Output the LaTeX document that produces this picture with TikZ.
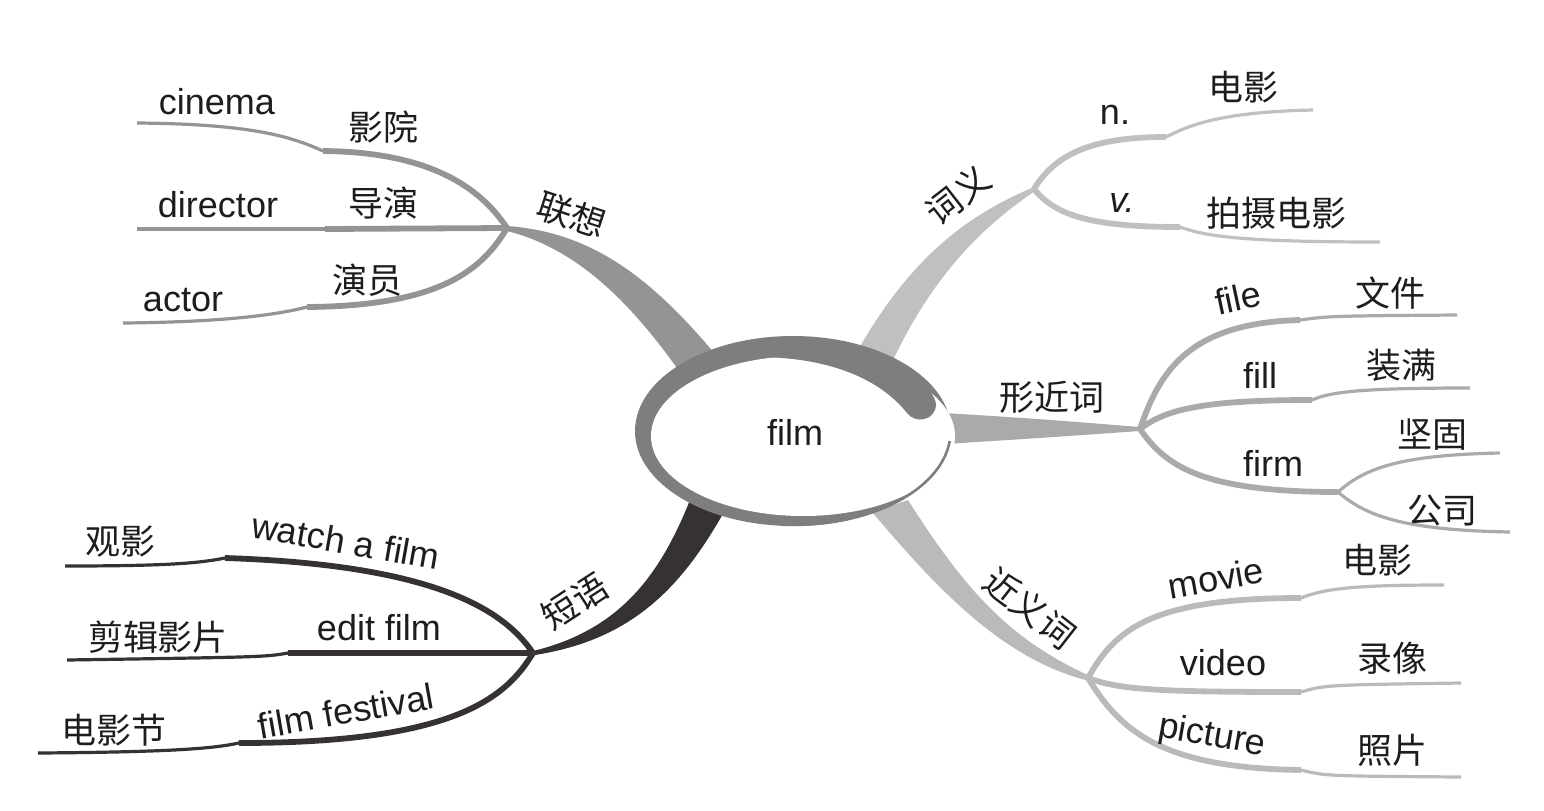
\documentclass[tikz,border=0pt]{standalone}
\usepackage{fontspec}
\setmainfont{Liberation Sans}
\newfontfamily\cjk{Noto Sans CJK SC}
\definecolor{ring}{RGB}{126,126,126}
\definecolor{assoc}{RGB}{148,148,148}
\definecolor{mean}{RGB}{192,192,192}
\definecolor{form}{RGB}{170,170,170}
\definecolor{syn}{RGB}{186,186,186}
\definecolor{phrase}{RGB}{54,49,50}
\definecolor{ink}{RGB}{30,28,28}

\begin{document}
\begin{tikzpicture}[x=0.5pt, y=-0.5pt,
  near/.style={line width=2.9pt},
  far/.style={line width=1.6pt},
  word/.style={font=\fontsize{18}{20}\selectfont, text=ink, inner sep=0pt},
  hanzi/.style={font=\cjk\fontsize{17.5}{20}\selectfont, text=ink, inner sep=0pt},
]
  \useasboundingbox (0,0) rectangle (1544,810);

  % forks and kinks
  \coordinate (assocF) at (507,228);
  \coordinate (meanF) at (1034,189);
  \coordinate (formF) at (1140,429);
  \coordinate (firmF) at (1338,492);
  \coordinate (synF) at (1088,678);
  \coordinate (phraseF) at (533,653);

  % trunks
  \fill[assoc] (507,226) .. controls (590,232) and (650,275) .. (720,360) -- (684,378) .. controls (630,300) and (575,248) .. (507,231) -- cycle;
  \fill[mean] (1034,187) .. controls (975,212) and (915,250) .. (858,350) -- (893,360) .. controls (935,272) and (985,225) .. (1035,191) -- cycle;
  \fill[form] (945,413) .. controls (1040,419) .. (1140,427) -- (1140,431) .. controls (1040,438) .. (945,444) -- cycle;
  \fill[syn] (872,512) .. controls (930,580) and (1000,660) .. (1090,681) -- (1090,676) .. controls (1010,640) and (965,590) .. (908,500) -- cycle;
  \fill[phrase] (690,500) .. controls (660,575) and (620,630) .. (533,651) -- (535,655) .. controls (630,640) and (680,590) .. (724,512) -- cycle;

  % centre
  \fill[ring] (793,431) ellipse [x radius=158, y radius=95];
  \fill[white] (803,436) ellipse [x radius=152, y radius=80];
  \draw[ring, line width=1.3pt] (949.7,441) arc [start angle=6, end angle=95, x radius=156.7, y radius=93.7];
  \fill[ring] (760,357) .. controls (840,358) and (885,385) .. (907,413) .. controls (915,424) and (935,421) .. (936,405) .. controls (936,390) and (900,352) .. (850,348) -- cycle;
  \node[word] (film) at (795,432) {film};

  % 联想
  \coordinate (cinK) at (323,151); \coordinate (cinE) at (137,123);
  \coordinate (dirK) at (325,229); \coordinate (dirE) at (137,229);
  \coordinate (actK) at (307,307); \coordinate (actE) at (123,323);
  \draw[near, assoc] (assocF) .. controls (485,195) and (440,152) .. (cinK);
  \draw[far, assoc] (cinK) .. controls (290,136) and (250,124) .. (cinE);
  \draw[near, assoc] (assocF) -- (dirK);
  \draw[far, assoc] (dirK) -- (dirE);
  \draw[near, assoc] (assocF) .. controls (482,270) and (440,306) .. (actK);
  \draw[far, assoc] (actK) .. controls (280,314) and (230,322) .. (actE);
  \node[hanzi, rotate=-18] (assocL) at (572,215) {联想};
  \node[word] (cinema) at (217,102) {cinema};
  \node[hanzi] (cinemaZ) at (383,127) {影院};
  \node[word] (director) at (218,205) {director};
  \node[hanzi] (directorZ) at (383,203) {导演};
  \node[word] (actor) at (183,300) {actor};
  \node[hanzi] (actorZ) at (367,280) {演员};

  % 词义
  \coordinate (nK) at (1166,137); \coordinate (nE) at (1313,110);
  \coordinate (vK) at (1180,227); \coordinate (vE) at (1380,242);
  \draw[near, mean] (meanF) .. controls (1055,155) and (1090,137) .. (nK);
  \draw[far, mean] (nK) .. controls (1190,125) and (1220,112) .. (nE);
  \draw[near, mean] (meanF) .. controls (1055,215) and (1090,227) .. (vK);
  \draw[far, mean] (vK) .. controls (1205,236) and (1240,242) .. (vE);
  \node[hanzi, rotate=38] (meanL) at (958,195) {词义};
  \node[word] (noun) at (1115,115) {n.};
  \node[hanzi] (nounZ) at (1243,87) {电影};
  \node[word, font=\fontsize{18}{20}\selectfont\itshape] (verb) at (1122,203) {v.};
  \node[hanzi] (verbZ) at (1276,213) {拍摄电影};

  % 形近词
  \coordinate (fileK) at (1300,320); \coordinate (fileE) at (1457,315);
  \coordinate (fillK) at (1312,400); \coordinate (fillE) at (1470,388);
  \coordinate (solidE) at (1500,453); \coordinate (compE) at (1510,532);
  \draw[near, form] (formF) .. controls (1160,370) and (1190,323) .. (fileK);
  \draw[far, form] (fileK) .. controls (1330,316) .. (fileE);
  \draw[near, form] (formF) .. controls (1165,410) and (1200,400) .. (fillK);
  \draw[far, form] (fillK) .. controls (1330,392) and (1360,388) .. (fillE);
  \draw[near, form] (formF) .. controls (1165,465) and (1200,492) .. (firmF);
  \draw[far, form] (firmF) .. controls (1365,468) and (1400,455) .. (solidE);
  \draw[far, form] (firmF) .. controls (1365,515) and (1400,530) .. (compE);
  \node[hanzi] (formL) at (1052,397) {形近词};
  \node[word, rotate=12] (file) at (1238,298) {file};
  \node[hanzi] (fileZ) at (1390,293) {文件};
  \node[word] (fill) at (1260,375) {fill};
  \node[hanzi] (fillZ) at (1401,365) {装满};
  \node[word] (firm) at (1273,463) {firm};
  \node[hanzi] (solidZ) at (1432,435) {坚固};
  \node[hanzi] (compZ) at (1442,510) {公司};

  % 近义词
  \coordinate (movK) at (1301,598); \coordinate (movE) at (1444,585);
  \coordinate (vidK) at (1301,692); \coordinate (vidE) at (1461,683);
  \coordinate (picK) at (1301,770); \coordinate (picE) at (1461,777);
  \draw[near, syn] (synF) .. controls (1115,630) and (1150,598) .. (movK);
  \draw[far, syn] (movK) .. controls (1325,588) and (1360,585) .. (movE);
  \draw[near, syn] (synF) .. controls (1120,690) and (1160,692) .. (vidK);
  \draw[far, syn] (vidK) .. controls (1325,685) .. (vidE);
  \draw[near, syn] (synF) .. controls (1120,730) and (1160,768) .. (picK);
  \draw[far, syn] (picK) .. controls (1325,776) .. (picE);
  \node[hanzi, rotate=-38] (synL) at (1030,608) {近义词};
  \node[word, rotate=10] (movie) at (1216,578) {movie};
  \node[hanzi] (movieZ) at (1377,560) {电影};
  \node[word] (video) at (1223,663) {video};
  \node[hanzi] (videoZ) at (1392,658) {录像};
  \node[word, rotate=-10] (picture) at (1212,737) {picture};
  \node[hanzi] (pictureZ) at (1392,750) {照片};

  % 短语
  \coordinate (watK) at (225,558); \coordinate (watE) at (65,566);
  \coordinate (ediK) at (288,653); \coordinate (ediE) at (67,660);
  \coordinate (fesK) at (239,743); \coordinate (fesE) at (38,753);
  \draw[near, phrase] (phraseF) .. controls (505,612) and (440,565) .. (watK);
  \draw[far, phrase] (watK) .. controls (200,563) and (170,566) .. (watE);
  \draw[near, phrase] (phraseF) -- (ediK);
  \draw[far, phrase] (ediK) .. controls (265,657) .. (ediE);
  \draw[near, phrase] (phraseF) .. controls (505,700) and (450,743) .. (fesK);
  \draw[far, phrase] (fesK) .. controls (215,748) and (180,752) .. (fesE);
  \node[hanzi, rotate=33] (phraseL) at (575,601) {短语};
  \node[word, rotate=-10] (watch) at (346,541) {watch a film};
  \node[hanzi] (watchZ) at (120,542) {观影};
  \node[word] (edit) at (379,628) {edit film};
  \node[hanzi] (editZ) at (158,637) {剪辑影片};
  \node[word, rotate=10] (festival) at (346,711) {film festival};
  \node[hanzi] (festivalZ) at (114,730) {电影节};
\end{tikzpicture}
\end{document}
